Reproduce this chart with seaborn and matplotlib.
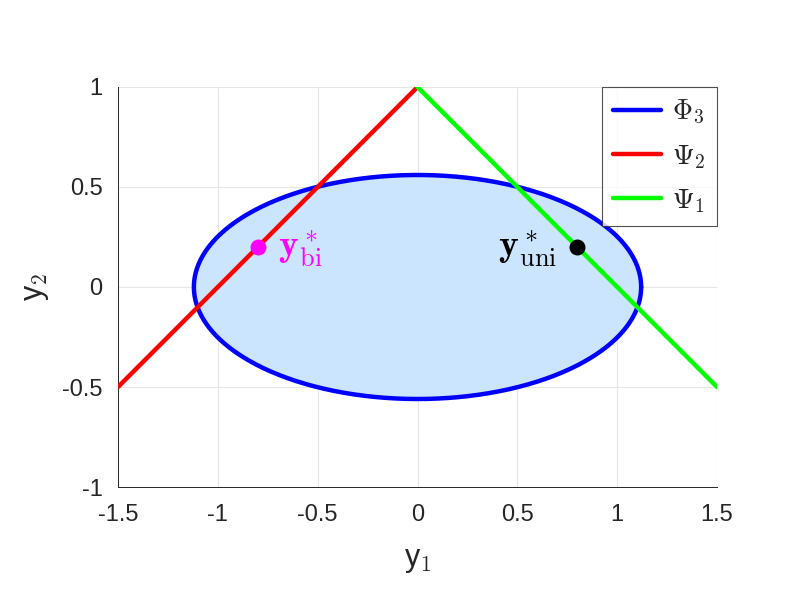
import numpy as np
import pandas as pd
import seaborn as sns
import matplotlib.pyplot as plt

# ellipse Phi_3 (centre and semi-axes)
ell_center = (0.0, 0.0)
ell_a = 1.12
ell_b = 0.56

# piecewise-linear sets
psi2_x = [-1.5, 0.0]
psi2_y = [-0.5, 1.0]
psi1_x = [0.0, 1.5]
psi1_y = [1.0, -0.5]

# optimal points
y_bi = (-0.8, 0.2)
y_uni = (0.8, 0.2)

xticks = [-1.5, -1, -0.5, 0, 0.5, 1, 1.5]
yticks = [-1, -0.5, 0, 0.5, 1]
xtick_labels = ["-1.5", "-1", "-0.5", "0", "0.5", "1", "1.5"]
ytick_labels = ["-1", "-0.5", "0", "0.5", "1"]

sns.set_style("white")
plt.rcParams["font.family"] = ["Liberation Sans", "DejaVu Sans"]
plt.rcParams["mathtext.fontset"] = "cm"

fig = plt.figure(figsize=(7.93, 5.95), dpi=100)
ax = fig.add_axes([0.1488, 0.1815, 0.7554, 0.6723])

t = np.linspace(0, 2 * np.pi, 400)
ell = pd.DataFrame({"x": ell_center[0] + ell_a * np.cos(t),
                    "y": ell_center[1] + ell_b * np.sin(t)})
ax.fill(ell["x"], ell["y"], color="#cce5ff", zorder=1)
sns.lineplot(data=ell, x="x", y="y", sort=False, estimator=None, color="#0000ff",
             lw=3.2, label=r"$\Phi_{\mathsf{3}}$", ax=ax, zorder=3)
sns.lineplot(x=psi2_x, y=psi2_y, sort=False, estimator=None, color="#ff0000",
             lw=3.2, label=r"$\Psi_{\mathsf{2}}$", ax=ax, zorder=4)
sns.lineplot(x=psi1_x, y=psi1_y, sort=False, estimator=None, color="#00ff00",
             lw=3.2, label=r"$\Psi_{\mathsf{1}}$", ax=ax, zorder=4)

ax.scatter([y_bi[0]], [y_bi[1]], s=110, color="#ff00ff", zorder=5)
ax.scatter([y_uni[0]], [y_uni[1]], s=110, color="black", zorder=5)
ax.text(y_bi[0] + 0.1, y_bi[1] - 0.01, r"$\mathbf{y}^*_{\rm bi}$",
        color="#ff00ff", fontsize=27, va="center", ha="left")
ax.text(y_uni[0] - 0.1, y_uni[1] - 0.01, r"$\mathbf{y}^*_{\rm uni}$",
        color="black", fontsize=27, va="center", ha="right")

ax.set_xlim(-1.5, 1.5)
ax.set_ylim(-1, 1)
ax.set_xticks(xticks)
ax.set_xticklabels(xtick_labels)
ax.set_yticks(yticks)
ax.set_yticklabels(ytick_labels)
ax.tick_params(labelsize=17, direction="in", length=4, width=0.6, color="#262626",
               labelcolor="#262626")
ax.tick_params(axis="x", pad=12)
ax.tick_params(axis="y", pad=11)
ax.grid(True, color="#e6e6e6", lw=0.8)
ax.set_axisbelow(True)
for s in ["top", "right"]:
    ax.spines[s].set_visible(False)
for s in ["left", "bottom"]:
    ax.spines[s].set_color("#262626")
    ax.spines[s].set_linewidth(0.7)

ax.set_xlabel(r"y$_{\mathsf{1}}$", fontsize=22, labelpad=14, color="#262626")
ax.set_ylabel(r"y$_{\mathsf{2}}$", fontsize=22, labelpad=8, color="#262626")

leg = ax.legend(loc="upper right", fontsize=20, frameon=True, fancybox=False,
                borderaxespad=0, handlelength=1.75, labelspacing=0.6,
                borderpad=0.4, handletextpad=0.4)
leg.get_frame().set_edgecolor("#262626")
leg.get_frame().set_linewidth(0.8)

fig.savefig("out.png", dpi=100, facecolor="white")
